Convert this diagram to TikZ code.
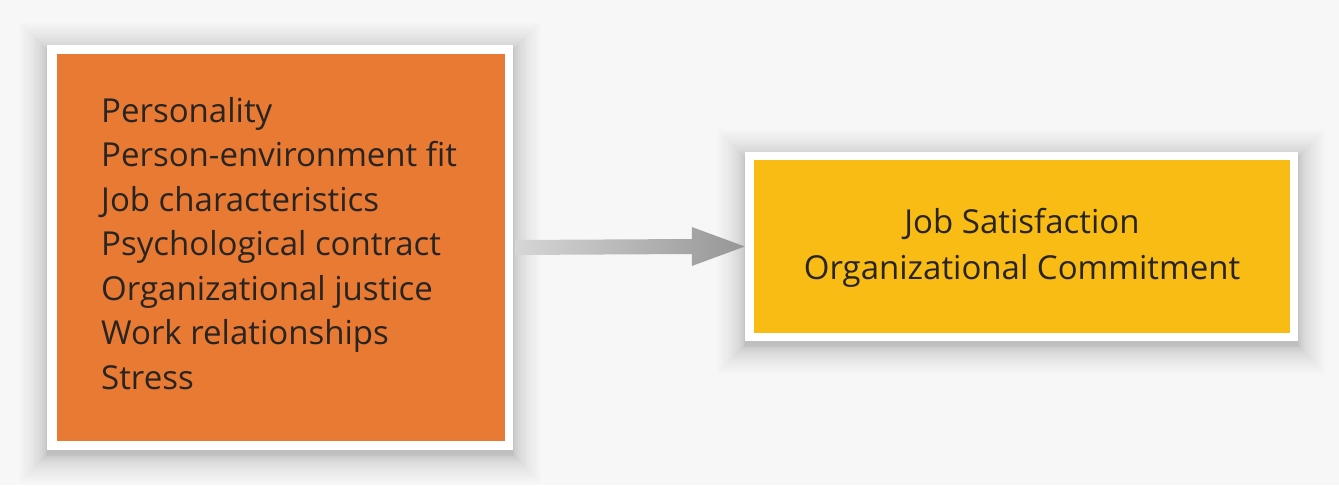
\documentclass[tikz,border=0pt]{standalone}
\usepackage{fontspec}
\setmainfont{Open Sans}
\usetikzlibrary{calc}
\definecolor{bgc}{RGB}{247,247,247}
\definecolor{orangec}{RGB}{233,122,51}
\definecolor{yellowc}{RGB}{249,188,21}
\definecolor{txtc}{RGB}{40,36,34}
\definecolor{arrowL}{RGB}{214,214,214}
\definecolor{arrowR}{RGB}{150,150,150}
\tikzset{
  framebox/.style={rectangle, fill=white, draw=none, inner sep=0pt},
  innerbox/.style={rectangle, draw=none, inner sep=0pt},
  label/.style={text=txtc, inner sep=0pt, font=\fontsize{33}{44.5}\selectfont},
  shadowlayer/.style={fill=black, fill opacity=0.009}
}
\newcommand{\softshadow}[1]{%
  \foreach \k in {1,...,28}{
    \pgfmathsetmacro{\d}{\k*\k/28}
    \fill[shadowlayer] ($(#1.north west)+(-\d,-\d+5)$) rectangle ($(#1.south east)+(\d,\d+5)$);
  }}
\begin{document}
\begin{tikzpicture}[x=1pt,y=-1pt]
\useasboundingbox (0,0) rectangle (1339,485);
\fill[bgc] (0,0) rectangle (1339,485);
% left box
\path (280,247.5) node[framebox, minimum width=466pt, minimum height=405pt] (Lf) {};
\softshadow{Lf}
\node[framebox, minimum width=466pt, minimum height=405pt] at (Lf) {};
\node[innerbox, fill=orangec, minimum width=448pt, minimum height=387pt] (L) at (281,247.5) {};
\node[label, align=left, anchor=base west] (Lt) at (101,389)
  {Personality\\Person-environment fit\\Job characteristics\\Psychological contract\\Organizational justice\\Work relationships\\Stress};
% right box
\path (1021.5,246.5) node[framebox, minimum width=553pt, minimum height=189pt] (Rf) {};
\softshadow{Rf}
\node[framebox, minimum width=553pt, minimum height=189pt] at (Rf) {};
\node[innerbox, fill=yellowc, minimum width=536pt, minimum height=173pt] (R) at (1022,246.5) {};
\node[label, align=center, anchor=base] (Rt1) at (1022,233) {Job Satisfaction};
\node[label, align=center, anchor=base] (Rt2) at (1022,279) {Organizational Commitment};
% arrow
\shade[left color=arrowL, right color=arrowR, shading angle=90]
  ($(Lf.east)+(2,-7.5)$) -- ($(Rf.west)+(-53,-7.5)$) -- ($(Rf.west)+(-53,-19.5)$)
  -- (Rf.west) -- ($(Rf.west)+(-53,19.5)$) -- ($(Rf.west)+(-53,7.5)$)
  -- ($(Lf.east)+(2,7.5)$) -- cycle;
\end{tikzpicture}
\end{document}
